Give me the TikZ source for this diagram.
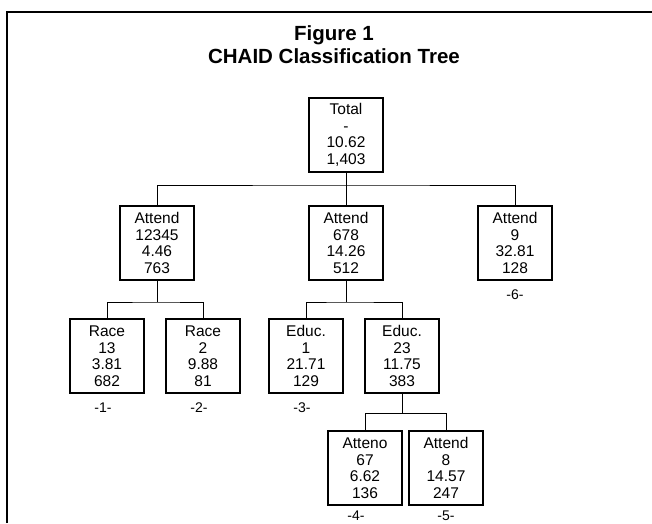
\documentclass[tikz,border=0pt]{standalone}
\usepackage{fontspec}
\setmainfont{Liberation Sans}
\usetikzlibrary{positioning}

\tikzset{
	leaf/.style={draw, line width=1.1pt, align=center, minimum width=74pt, minimum height=74pt, inner sep=0pt, font=\fontsize{15.5}{16.5}\selectfont},
	tag/.style={font=\fontsize{14}{16}\selectfont, inner sep=1pt},
	link/.style={line width=0.9pt},
	headline/.style={font=\bfseries\fontsize{20.5}{23}\selectfont, anchor=base, inner sep=0pt},
}

\begin{document}
\begin{tikzpicture}[x=1pt,y=-1pt]
	\useasboundingbox (0,0) rectangle (652,523);

	\pgfmathsetmacro{\rowzero}{135}
	\pgfmathsetmacro{\rowone}{243}
	\pgfmathsetmacro{\rowtwo}{356}
	\pgfmathsetmacro{\rowthree}{468}

	% frame
	\draw[line width=1.4pt] (7,523) -- (7,12) -- (652,12);

	% title
	\node[headline] (fig) at (334,40) {Figure 1};
	\node[headline] (ttl) at (334,63) {CHAID Classification Tree};

	% boxes
	\node[leaf] (total) at (346,\rowzero) {Total\\-\\10.62\\1,403};

	\node[leaf] (att1) at (157,\rowone) {Attend\\12345\\4.46\\763};
	\node[leaf] (att2) at (346,\rowone) {Attend\\678\\14.26\\512};
	\node[leaf] (att3) at (515,\rowone) {Attend\\9\\32.81\\128};

	\node[leaf] (race1) at (107,\rowtwo) {Race\\13\\3.81\\682};
	\node[leaf] (race2) at (203,\rowtwo) {Race\\2\\9.88\\81};
	\node[leaf] (educ1) at (306,\rowtwo) {Educ.\\1\\21.71\\129};
	\node[leaf] (educ2) at (402,\rowtwo) {Educ.\\23\\11.75\\383};

	\node[leaf] (att4) at (365,\rowthree) {Atteno\\67\\6.62\\136};
	\node[leaf] (att5) at (446,\rowthree) {Attend\\8\\14.57\\247};

	% segment numbers
	\node[tag, below=8pt of race1, xshift=-4pt] (seg1) {-1-};
	\node[tag, below=8pt of race2, xshift=-4pt] (seg2) {-2-};
	\node[tag, below=8pt of educ1, xshift=-4pt] (seg3) {-3-};
	\node[tag, below=4pt of att4, xshift=-9pt] (seg4) {-4-};
	\node[tag, below=4pt of att5] (seg5) {-5-};
	\node[tag, below=8pt of att3] (seg6) {-6-};

	% branches
	\coordinate (busT) at (346,185);
	\coordinate (busA) at (157,302);
	\coordinate (busB) at (346,302);
	\coordinate (busC) at (402,413);

	\draw[link] (total.south) -- (att2.north);
	\draw[link] (att1.north) |- (busT) -| (att3.north);

	\draw[link] (att1.south) -- (busA);
	\draw[link] (race1.north) |- (busA) -| (race2.north);

	\draw[link] (att2.south) -- (busB);
	\draw[link] (educ1.north) |- (busB) -| (educ2.north);

	\draw[link] (educ2.south) -- (busC);
	\draw[link] (att4.north) |- (busC) -| (att5.north);

\end{tikzpicture}
\end{document}
